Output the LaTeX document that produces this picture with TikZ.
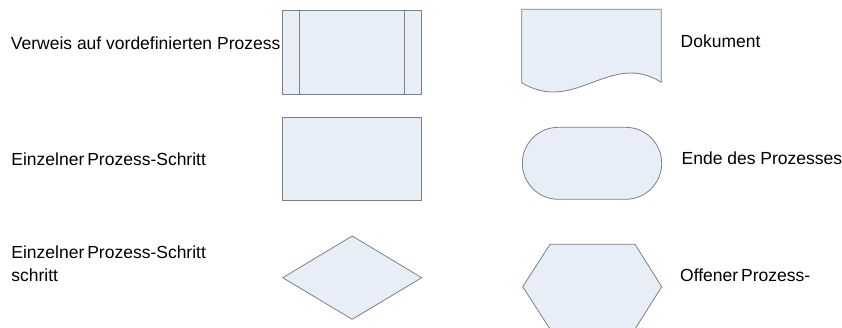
\documentclass[tikz,border=0pt]{standalone}
\usepackage{fontspec}
\setmainfont{Liberation Sans}
\definecolor{shapefill}{HTML}{E8EEF7}
\definecolor{shapeline}{HTML}{7F7F7F}
\begin{document}
\begin{tikzpicture}[x=1pt,y=-1pt,
  sym/.style={draw=shapeline,fill=shapefill,line width=0.8pt,line join=round},
  lbl/.style={anchor=base west,inner sep=0pt,font=\fontsize{17.5}{23.3}\selectfont,text=black}]
\useasboundingbox (0,0) rectangle (842,327);
\clip (0,0) rectangle (842,327);
% predefined process
\draw[sym] (282.7,10) rectangle (421.7,94.3);
\draw[sym,fill=none] (299.3,10) -- (299.3,94.3);
\draw[sym,fill=none] (404.3,10) -- (404.3,94.3);
% process step
\draw[sym] (282.3,117.3) rectangle (421.7,200.7);
% decision
\draw[sym] (282.7,277.7) -- (352.2,236) -- (421.7,277.7) -- (352.2,319.3) -- cycle;
% document
\draw[sym] (521.7,9.3) -- (661.3,9.3) -- (661.3,82.3)
  .. controls (610,50) and (575,115) .. (521.7,82.7) -- cycle;
% terminal
\draw[sym,rounded corners=36pt] (522.3,127.3) rectangle (661.7,199.3);
% hexagon
\draw[sym] (522.7,286.7) -- (550,244.3) -- (635,244.3) -- (661.7,286.7) -- (635,329) -- (550,329) -- cycle;
% labels
\node[lbl] (t1) at (10.7,49.3) {Verweis auf vordefinierten Prozess};
\node[lbl] (t2) at (11.2,165) {Einzelner\hspace{0.17em}Prozess-Schritt};
\node[lbl,align=left] (t3) at (11.2,281.7) {Einzelner\hspace{0.17em}Prozess-Schritt\\schritt};
\node[lbl] (t4) at (680.5,47.7) {Dokument};
\node[lbl] (t5) at (681.5,164.3) {Ende des Prozesses};
\node[lbl] (t6) at (680,281.7) {Offener\hspace{0.17em}Prozess-};
\end{tikzpicture}
\end{document}
